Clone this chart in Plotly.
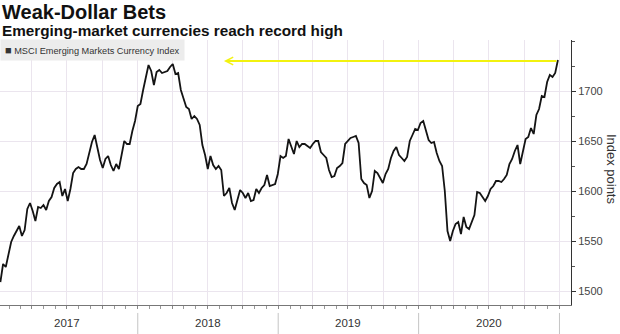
import pandas as pd
import plotly.graph_objects as go

# Weekly closes of the MSCI Emerging Markets Currency Index
index_values = [
    1509, 1527, 1524, 1538, 1549, 1555, 1560, 1565, 1555, 1561,
    1582, 1588, 1580, 1570, 1584, 1583, 1586, 1581, 1590, 1594,
    1603, 1607, 1609, 1595, 1602, 1590, 1602, 1618, 1622, 1624,
    1622, 1622, 1627, 1637, 1649, 1656,
    1643, 1631, 1623, 1632, 1635, 1626, 1620, 1627, 1622, 1637,
    1650, 1647, 1647, 1660, 1670, 1685, 1687, 1701, 1712, 1726,
    1720, 1706, 1719, 1721, 1718, 1719, 1720, 1724, 1727, 1717,
    1718, 1701, 1692, 1684, 1682, 1672, 1675,
    1672, 1666, 1646, 1636, 1622, 1635, 1626, 1622, 1625, 1621,
    1595, 1598, 1603, 1588, 1581, 1591, 1601, 1598, 1593, 1598,
    1590, 1591, 1602, 1598, 1603, 1606, 1616, 1605, 1606, 1607,
    1617, 1635, 1633, 1635, 1652,
    1645, 1637, 1650, 1644, 1647, 1647, 1645, 1643, 1647, 1650,
    1650, 1639, 1636, 1633, 1621, 1614, 1615, 1623, 1625, 1628,
    1647, 1650, 1653, 1654, 1655, 1648, 1612, 1608, 1606, 1593,
    1600, 1620, 1618, 1613, 1608,
    1617, 1622, 1633, 1640, 1644, 1636, 1633, 1630, 1634, 1650,
    1656, 1662, 1661, 1668, 1670, 1661, 1651, 1648, 1649, 1638,
    1630, 1625, 1600, 1560, 1550, 1560, 1567, 1569, 1557, 1574,
    1564, 1562, 1570, 1576, 1599,
    1598, 1594, 1590, 1595, 1602, 1605, 1610, 1610, 1609, 1612,
    1616, 1627, 1632, 1640, 1646, 1627, 1638, 1652, 1654, 1663,
    1657, 1676, 1682, 1695, 1694, 1709, 1716, 1714, 1718, 1731,
]
week_dates = pd.date_range("2017-01-09", periods=len(index_values), freq="7D")

series_name = "MSCI Emerging Markets Currency Index"
title_text = "Weak-Dollar Bets"
subtitle_text = "Emerging-market currencies reach record high"
y_title = "Index points"

y_ticks = [1500, 1550, 1600, 1650, 1700]
y_minor_ticks = [1525, 1575, 1625, 1675, 1725, 1750]

year_labels = ["2017", "2018", "2019", "2020"]
year_mid_dates = ["2017-07-02", "2018-07-02", "2019-07-02", "2020-07-02"]
year_boundaries = ["2018-01-01", "2019-01-01", "2020-01-01", "2021-01-01"]

# record-high reference level and where the arrow points back to
record_level = 1730
arrow_target_date = "2018-08-13"

FONT = "Liberation Sans"
GRID = "#ebe5ee"

fig = go.Figure()
fig.add_trace(go.Scatter(
    x=week_dates, y=index_values, mode="lines",
    line=dict(color="#141414", width=1.8),
    name=series_name, showlegend=False,
))

annotations = [
    dict(text=f"<b>{title_text}</b>", x=0, y=1.106, xref="paper", yref="paper",
         xanchor="left", yanchor="middle", showarrow=False,
         font=dict(family=FONT, size=20, color="#111")),
    dict(text=f"<b>{subtitle_text}</b>", x=0, y=1.036, xref="paper", yref="paper",
         xanchor="left", yanchor="middle", showarrow=False,
         font=dict(family=FONT, size=15.3, color="#111")),
    dict(text=f"<span style='font-size:11px'>■</span> {series_name}", x=0, y=1.005,
         xref="paper", yref="paper", xanchor="left", yanchor="top", showarrow=False,
         bgcolor="#ececec", borderpad=4,
         font=dict(family=FONT, size=9.2, color="#333")),
    dict(text=y_title, x=1.07, y=0.51, xref="paper", yref="paper",
         xanchor="center", yanchor="middle", showarrow=False, textangle=90,
         font=dict(family=FONT, size=13, color="#333")),
    dict(text="", x=arrow_target_date, y=record_level, ax=week_dates[-1], ay=record_level,
         xref="x", yref="y", axref="x", ayref="y", showarrow=True,
         arrowhead=5, arrowsize=0.75, arrowwidth=2, arrowcolor="#f2f20f",
         standoff=0, startstandoff=0),
]
for label, mid in zip(year_labels, year_mid_dates):
    annotations.append(dict(
        text=label, x=mid, y=-0.068, xref="x", yref="paper",
        xanchor="center", yanchor="middle", showarrow=False,
        font=dict(family=FONT, size=11.5, color="#333"),
    ))

shapes = [
    dict(type="line", xref="x", yref="paper", x0=d, x1=d, y0=-0.03, y1=-0.11,
         line=dict(color="#c4c4c4", width=1))
    for d in year_boundaries
]

fig.update_layout(
    width=620, height=334,
    margin=dict(l=0, r=49, t=40, b=29),
    paper_bgcolor="white", plot_bgcolor="white",
    annotations=annotations, shapes=shapes,
    xaxis=dict(
        type="date", range=["2017-01-08", "2021-01-31"],
        tick0="2017-01-01", dtick="M3",
        showgrid=True, gridcolor=GRID, gridwidth=1,
        ticks="outside", ticklen=3, tickcolor="#888",
        showticklabels=False,
        minor=dict(dtick="M1", tick0="2017-01-01", ticks="outside", ticklen=3,
                   tickcolor="#999", showgrid=False),
        showline=True, linecolor="#777", linewidth=1, zeroline=False,
    ),
    yaxis=dict(
        side="right", range=[1486, 1751],
        tickmode="array", tickvals=y_ticks,
        ticks="outside", ticklen=4, tickcolor="#333",
        tickfont=dict(family=FONT, size=11, color="#444"),
        showgrid=True, gridcolor=GRID, gridwidth=1,
        minor=dict(tickmode="array", tickvals=y_minor_ticks, ticks="outside",
                   ticklen=3, tickcolor="#555", showgrid=False),
        showline=True, linecolor="#333", linewidth=1, zeroline=False,
    ),
)

fig.write_html("out.html")
